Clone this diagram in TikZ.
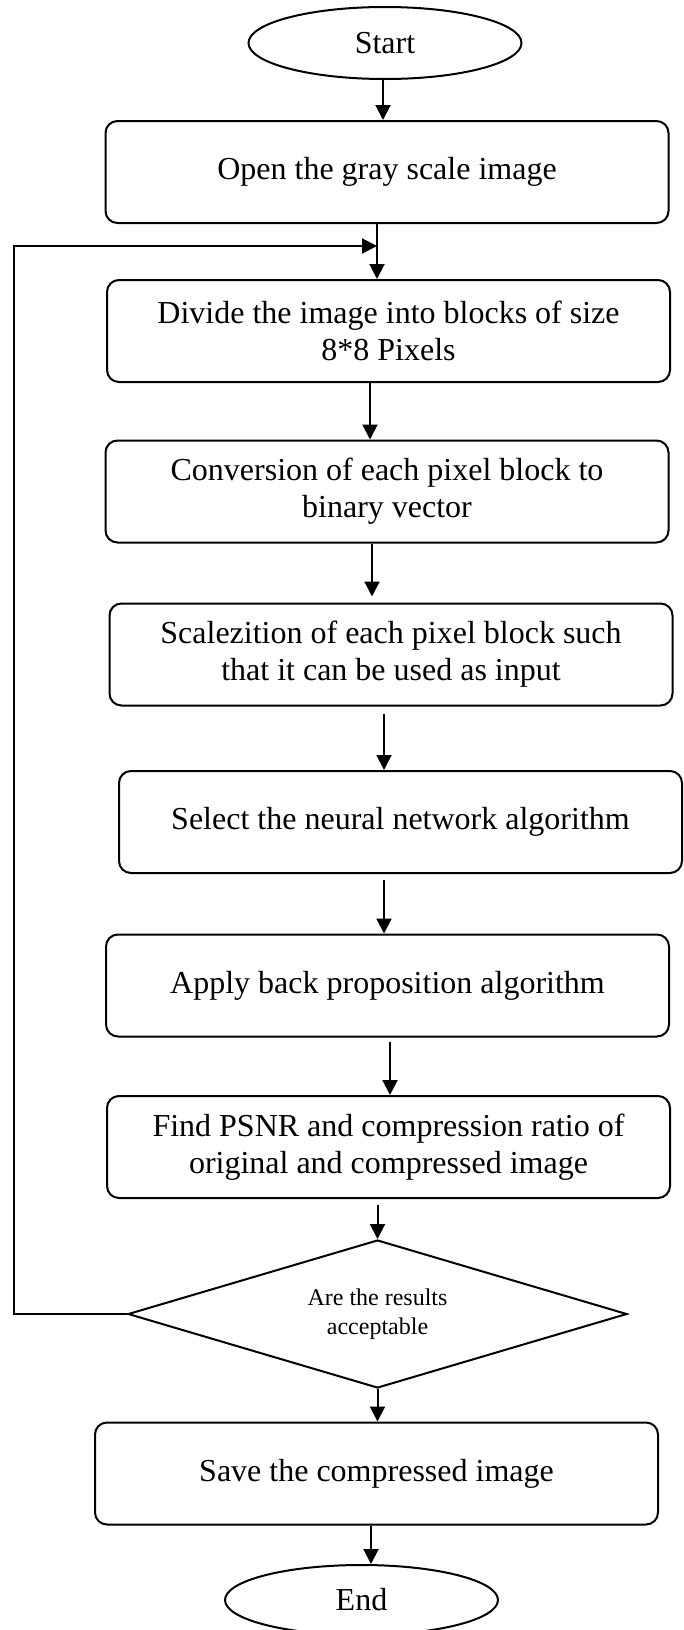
\documentclass[tikz,border=0pt]{standalone}
\usepackage{fontspec}
\setmainfont{Liberation Serif}
\usetikzlibrary{arrows.meta,shapes.geometric}
\begin{document}
\begin{tikzpicture}[x=1pt,y=-1pt,
  line width=2pt,
  box/.style={draw,rectangle,rounded corners=12pt,minimum width=563pt,minimum height=102pt,inner sep=0pt,align=center,font=\fontsize{32}{37}\selectfont},
  oval/.style={draw,ellipse,minimum width=273pt,minimum height=72pt,inner sep=0pt,font=\fontsize{32}{37}\selectfont},
  decide/.style={draw,diamond,aspect=3.37,minimum width=499pt,minimum height=148pt,inner sep=0pt,align=center,font=\fontsize{24}{29}\selectfont},
  arr/.style={-{Triangle[length=15pt,width=15pt]}}]
\useasboundingbox (0,0) rectangle (683,1630);
\node[oval] (start) at (385,43) {\raisebox{-4pt}{Start}};
\node[box] (open) at (387,172) {Open the gray scale image};
\node[box] (divide) at (388.5,331) {Divide the image into blocks of size\\8*8 Pixels};
\node[box] (conv) at (387,491.5) {Conversion of each pixel block to\\binary vector};
\node[box] (scal) at (391,654.5) {Scalezition of each pixel block such\\that it can be used as input};
\node[box] (select) at (400.5,822) {Select the neural network algorithm};
\node[box] (apply) at (387.5,985.5) {Apply back proposition algorithm};
\node[box] (find) at (388.5,1147) {Find PSNR and compression ratio of\\original and compressed image};
\node[decide] (dec) at (377.5,1314) {Are the results\\acceptable};
\node[box] (save) at (376.5,1473.5) {Save the compressed image};
\node[oval,minimum height=70pt] (end) at (361.5,1600) {\raisebox{-4pt}{End}};
\coordinate (lx) at (14,0);
\coordinate (merge) at (377,246);
\draw[arr] (start.south -| 383,0) -- (open.north -| 383,0);
\draw[arr] (open.south -| 377,0) -- (divide.north -| 377,0);
\draw[arr] (divide.south -| 370,0) -- (conv.north -| 370,0);
\draw[arr] (conv.south -| 372,0) -- ([yshift=6pt]scal.north -| 372,0);
\draw[arr,shorten <=7pt] (scal.south -| 384,0) -- (select.north -| 384,0);
\draw[arr,shorten <=6pt] (select.south -| 384,0) -- (apply.north -| 384,0);
\draw[arr,shorten <=4pt] (apply.south -| 390,0) -- (find.north -| 390,0);
\draw[arr,shorten <=6pt] (find.south -| dec.north) -- (dec.north);
\draw[arr] (dec.south) -- (save.north -| dec.south);
\draw[arr] (save.south -| 371,0) -- (end.north -| 371,0);
\draw[arr] (dec.west) -- (dec.west -| lx) |- (merge);
\end{tikzpicture}
\end{document}
